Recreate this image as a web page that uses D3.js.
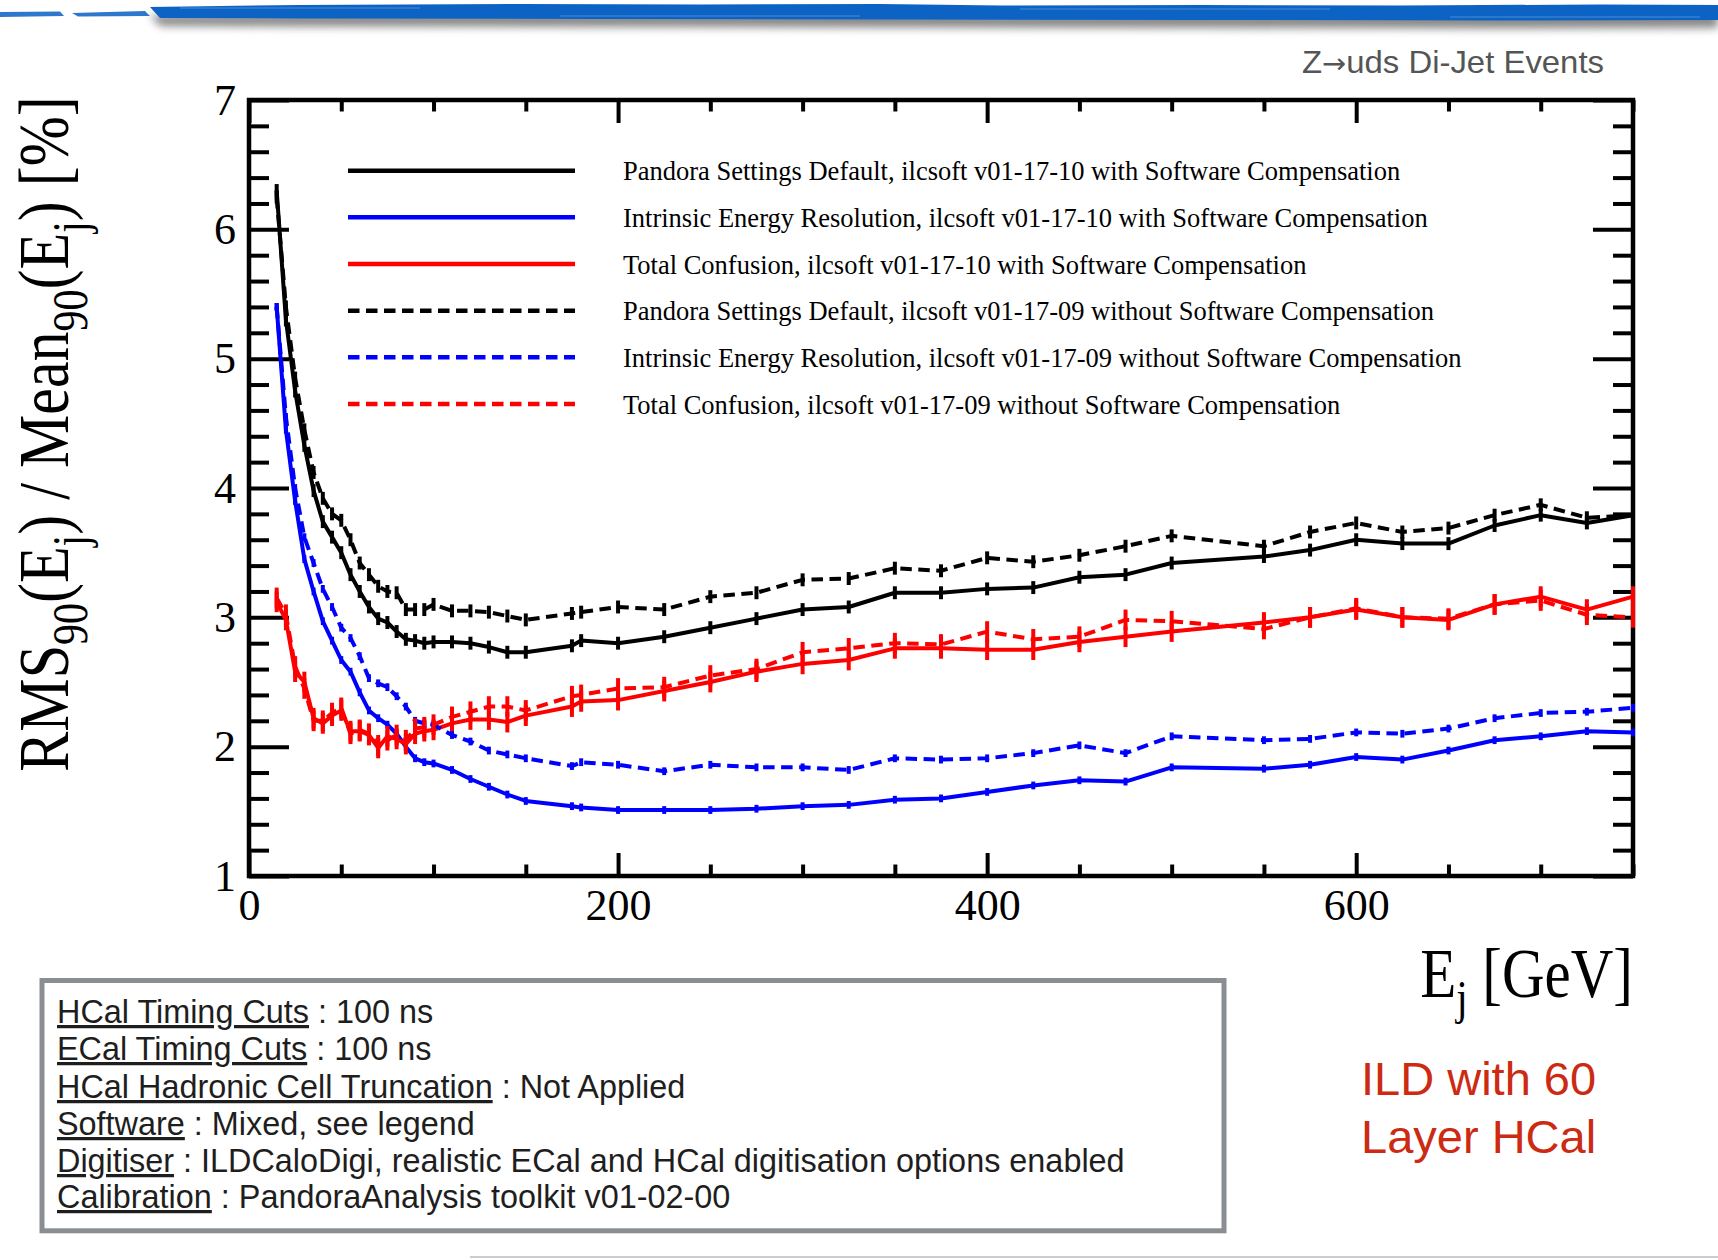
<!DOCTYPE html>
<html>
<head>
<meta charset="utf-8">
<script src="https://cdn.jsdelivr.net/npm/d3@7"></script>
<style>
  html, body { margin: 0; padding: 0; background: #ffffff; }
  svg { display: block; }
</style>
</head>
<body>
<svg id="chart" width="1718" height="1260"></svg>
<script>
// Jet energy points [GeV]
const energies = [15, 20, 25, 30, 35, 40, 45, 50, 55, 60, 65, 70, 75, 80, 85, 90, 95, 100,
  110, 120, 130, 140, 150, 175, 180,
  200, 225, 250, 275, 300, 325, 350, 375, 400, 425, 450, 475, 500,
  550, 575, 600, 625, 650, 675, 700, 725, 750];

// ilcsoft v01-17-10, with software compensation
const defaultSC = [6.30, 5.30, 4.75, 4.33, 3.98, 3.74, 3.62, 3.50, 3.33, 3.20, 3.08, 2.99, 2.96, 2.89, 2.83, 2.82, 2.80, 2.81,
  2.81, 2.80, 2.77, 2.73, 2.73, 2.78, 2.82,
  2.80, 2.85, 2.92, 2.99, 3.06, 3.08, 3.19, 3.19, 3.22, 3.23, 3.31, 3.33, 3.42,
  3.47, 3.52, 3.60, 3.57, 3.57, 3.71, 3.79, 3.73, 3.79];
const intrinsicSC = [5.40, 4.45, 3.90, 3.45, 3.20, 2.97, 2.82, 2.67, 2.58, 2.42, 2.28, 2.22, 2.17, 2.10, 2.00, 1.91, 1.88, 1.87,
  1.82, 1.75, 1.69, 1.63, 1.58, 1.54, 1.53,
  1.51, 1.51, 1.51, 1.52, 1.54, 1.55, 1.59, 1.60, 1.65, 1.70, 1.74, 1.73, 1.84,
  1.83, 1.86, 1.92, 1.90, 1.97, 2.05, 2.08, 2.12, 2.11];
const confusionSC = [3.12, 2.98, 2.58, 2.50, 2.22, 2.18, 2.24, 2.28, 2.12, 2.12, 2.09, 1.99, 2.08, 2.06, 2.02, 2.10, 2.12, 2.13,
  2.18, 2.21, 2.21, 2.19, 2.24, 2.31, 2.35,
  2.36, 2.43, 2.50, 2.58, 2.64, 2.67, 2.76, 2.76, 2.75, 2.75, 2.81, 2.85, 2.89,
  2.96, 3.00, 3.06, 3.00, 2.98, 3.10, 3.16, 3.06, 3.16];

// ilcsoft v01-17-09, without software compensation
const defaultNoSC = [6.25, 5.40, 4.85, 4.45, 4.12, 3.92, 3.80, 3.75, 3.60, 3.42, 3.33, 3.24, 3.20, 3.19, 3.06, 3.06, 3.06, 3.10,
  3.05, 3.05, 3.04, 3.01, 2.98, 3.03, 3.04,
  3.08, 3.06, 3.16, 3.19, 3.29, 3.30, 3.38, 3.36, 3.46, 3.43, 3.48, 3.55, 3.63,
  3.55, 3.66, 3.73, 3.66, 3.69, 3.79, 3.87, 3.77, 3.79];
const intrinsicNoSC = [5.40, 4.55, 4.00, 3.62, 3.42, 3.22, 3.08, 2.92, 2.84, 2.70, 2.53, 2.49, 2.46, 2.39, 2.31, 2.20, 2.18, 2.17,
  2.09, 2.04, 1.97, 1.94, 1.91, 1.85, 1.88,
  1.86, 1.81, 1.86, 1.84, 1.84, 1.82, 1.91, 1.90, 1.91, 1.95, 2.01, 1.95, 2.08,
  2.05, 2.06, 2.11, 2.10, 2.14, 2.22, 2.26, 2.27, 2.30];
const confusionNoSC = [3.15, 3.02, 2.62, 2.45, 2.20, 2.20, 2.26, 2.30, 2.10, 2.13, 2.10, 2.01, 2.05, 2.09, 2.05, 2.14, 2.15, 2.17,
  2.23, 2.27, 2.31, 2.31, 2.28, 2.39, 2.40,
  2.45, 2.46, 2.55, 2.60, 2.73, 2.76, 2.80, 2.79, 2.89, 2.83, 2.85, 2.98, 2.97,
  2.91, 3.00, 3.07, 3.00, 2.99, 3.10, 3.13, 3.02, 3.00];

// statistical uncertainty (half-width, %) per series
const errDefault = 0.05, errIntrinsic = 0.03, errConfusion = 0.08;

const seriesLabels = [
  "Pandora Settings Default, ilcsoft v01-17-10 with Software Compensation",
  "Intrinsic Energy Resolution, ilcsoft v01-17-10 with Software Compensation",
  "Total Confusion, ilcsoft v01-17-10 with Software Compensation",
  "Pandora Settings Default, ilcsoft v01-17-09 without Software Compensation",
  "Intrinsic Energy Resolution, ilcsoft v01-17-09 without Software Compensation",
  "Total Confusion, ilcsoft v01-17-09 without Software Compensation"
];

const xMajorTicks = [0, 200, 400, 600];
const yMajorTicks = [1, 2, 3, 4, 5, 6, 7];

const infoLines = [
  ["HCal Timing Cuts", " : 100 ns"],
  ["ECal Timing Cuts", " : 100 ns"],
  ["HCal Hadronic Cell Truncation", " : Not Applied"],
  ["Software", " : Mixed, see legend"],
  ["Digitiser", " : ILDCaloDigi, realistic ECal and HCal digitisation options enabled"],
  ["Calibration", " : PandoraAnalysis toolkit v01-02-00"]
];

const series = [
  { values: defaultSC,     err: errDefault,   color: "#000000", dashed: false },
  { values: intrinsicSC,   err: errIntrinsic, color: "#0000ff", dashed: false },
  { values: confusionSC,   err: errConfusion, color: "#ff0000", dashed: false },
  { values: defaultNoSC,   err: errDefault,   color: "#000000", dashed: true },
  { values: intrinsicNoSC, err: errIntrinsic, color: "#0000ff", dashed: true },
  { values: confusionNoSC, err: errConfusion, color: "#ff0000", dashed: true }
].map((s, i) => ({ ...s, label: seriesLabels[i] }));

const SERIF = "'Liberation Serif', 'Times New Roman', serif";
const SANS = "'Liberation Sans', Arial, Helvetica, sans-serif";
const DASH = "11.5,6.5";

const svg = d3.select("#chart");

// ---------- slide decoration: brushed banner at the top ----------
const defs = svg.append("defs");
defs.append("filter").attr("id", "soft").attr("x", "-5%").attr("y", "-200%").attr("width", "110%").attr("height", "500%")
  .append("feGaussianBlur").attr("stdDeviation", 4);

const bannerMain = "M150,7 L300,5 L520,4 L700,4.5 L880,4 L1000,5.5 L1200,5 L1400,5.5 L1600,4.5 L1718,5 L1718,20 L1500,20.5 L1200,20 L900,19.5 L600,19 L300,18.5 L160,18 Z";
const bannerBits = "M0,12 L60,11.5 L64,16 L0,17 Z M72,13 L145,11 L150,16 L78,16.5 Z";
svg.append("path").attr("d", bannerMain).attr("transform", "translate(0,8)")
  .attr("fill", "#555555").attr("opacity", 0.7).attr("filter", "url(#soft)");
svg.append("path").attr("d", bannerMain).attr("fill", "#0d63c3");
svg.append("path").attr("d", bannerBits).attr("fill", "#2d77cc");
// lighter brush streaks along the banner
[[180, 420, 8], [560, 860, 16], [1020, 1330, 9], [1450, 1700, 17]].forEach(([a, b, yy]) => {
  svg.append("line").attr("x1", a).attr("x2", b).attr("y1", yy).attr("y2", yy)
    .attr("stroke", "#3f86d6").attr("stroke-width", 1.5).attr("opacity", 0.8);
});

// faint edge of the next banner at the bottom
svg.append("line").attr("x1", 470).attr("x2", 1718).attr("y1", 1257).attr("y2", 1257)
  .attr("stroke", "#c9cdd3").attr("stroke-width", 2);

// ---------- plot frame and scales ----------
const plot = { left: 249, right: 1633, top: 100, bottom: 876 };
const x = d3.scaleLinear().domain([0, 750]).range([plot.left, plot.right]);
const y = d3.scaleLinear().domain([1, 7]).range([plot.bottom, plot.top]);

const xMinorTicks = d3.range(50, 751, 50).filter(v => !xMajorTicks.includes(v));
const yMinorTicks = d3.range(10, 71, 2).map(v => v / 10).filter(v => !yMajorTicks.includes(v));

function styleAxis(g, withLabels) {
  g.select(".domain").remove();
  g.selectAll(".tick line").attr("stroke", "#000").attr("stroke-width", 4);
  g.selectAll(".tick text")
    .attr("font-family", SERIF).attr("font-size", 44).attr("fill", "#000");
  if (!withLabels) g.selectAll(".tick text").remove();
  return g;
}

// left / right
svg.append("g").attr("transform", `translate(${plot.left},0)`)
  .call(d3.axisLeft(y).tickValues(yMajorTicks).tickSize(-40).tickPadding(13).tickFormat(d3.format("d")))
  .call(g => styleAxis(g, true));
svg.append("g").attr("transform", `translate(${plot.left},0)`)
  .call(d3.axisLeft(y).tickValues(yMinorTicks).tickSize(-20))
  .call(g => styleAxis(g, false));
svg.append("g").attr("transform", `translate(${plot.right},0)`)
  .call(d3.axisRight(y).tickValues(yMajorTicks).tickSize(-40))
  .call(g => styleAxis(g, false));
svg.append("g").attr("transform", `translate(${plot.right},0)`)
  .call(d3.axisRight(y).tickValues(yMinorTicks).tickSize(-20))
  .call(g => styleAxis(g, false));

// bottom / top
svg.append("g").attr("transform", `translate(0,${plot.bottom})`)
  .call(d3.axisBottom(x).tickValues(xMajorTicks).tickSize(-23).tickPadding(13).tickFormat(d3.format("d")))
  .call(g => styleAxis(g, true));
svg.append("g").attr("transform", `translate(0,${plot.bottom})`)
  .call(d3.axisBottom(x).tickValues(xMinorTicks).tickSize(-11.5))
  .call(g => styleAxis(g, false));
svg.append("g").attr("transform", `translate(0,${plot.top})`)
  .call(d3.axisTop(x).tickValues(xMajorTicks).tickSize(-23))
  .call(g => styleAxis(g, false));
svg.append("g").attr("transform", `translate(0,${plot.top})`)
  .call(d3.axisTop(x).tickValues(xMinorTicks).tickSize(-11.5))
  .call(g => styleAxis(g, false));

svg.append("rect")
  .attr("x", plot.left).attr("y", plot.top)
  .attr("width", plot.right - plot.left).attr("height", plot.bottom - plot.top)
  .attr("fill", "none").attr("stroke", "#000").attr("stroke-width", 4.5);

// ---------- data ----------
const line = d3.line().x(d => x(d.e)).y(d => y(d.v));
const gData = svg.append("g");
series.forEach(s => {
  const pts = energies.map((e, i) => ({ e, v: s.values[i] }));
  gData.append("path").datum(pts)
    .attr("d", line)
    .attr("fill", "none")
    .attr("stroke", s.color)
    .attr("stroke-width", 4)
    .attr("stroke-linejoin", "round")
    .attr("stroke-dasharray", s.dashed ? DASH : null);
  gData.append("g").selectAll("line").data(pts).join("line")
    .attr("x1", d => x(d.e)).attr("x2", d => x(d.e))
    .attr("y1", d => y(d.v - s.err)).attr("y2", d => y(d.v + s.err))
    .attr("stroke", s.color).attr("stroke-width", 4);
});

// ---------- legend ----------
const legendRows = [170.7, 217.3, 264, 310.7, 357.3, 404];
const gLeg = svg.append("g");
series.forEach((s, i) => {
  const ly = legendRows[i];
  gLeg.append("line").attr("x1", 348).attr("x2", 575).attr("y1", ly).attr("y2", ly)
    .attr("stroke", s.color).attr("stroke-width", 4.5)
    .attr("stroke-dasharray", s.dashed ? DASH : null);
  gLeg.append("text").attr("x", 623).attr("y", ly + 9.5)
    .attr("font-family", SERIF).attr("font-size", 26.5).attr("fill", "#000")
    .text(s.label);
});

// ---------- axis titles ----------
const xt = svg.append("text")
  .attr("transform", "translate(1633,997) scale(1,1.2)")
  .attr("text-anchor", "end")
  .attr("font-family", SERIF).attr("font-size", 59).attr("fill", "#000");
xt.append("tspan").text("E");
xt.append("tspan").attr("font-size", 41).attr("dy", 14).text("j");
xt.append("tspan").attr("dy", -14).text(" [GeV]");

const yt = svg.append("text")
  .attr("transform", "translate(68,434) rotate(-90) scale(1,1.2)")
  .attr("text-anchor", "middle")
  .attr("font-family", SERIF).attr("font-size", 60).attr("fill", "#000");
[["RMS", 0], ["90", 1], ["(E", 0], ["j", 1], [") / Mean", 0], ["90", 1], ["(E", 0], ["j", 1], [") [%]", 0]]
  .reduce((prevSub, [t, sub]) => {
    const sp = yt.append("tspan").text(t);
    if (sub) sp.attr("font-size", 42);
    if (sub !== prevSub) sp.attr("dy", sub ? 16 : -16);
    return sub;
  }, 0);

// ---------- annotations ----------
const ev = svg.append("text").attr("x", 1302).attr("y", 73)
  .attr("textLength", 302).attr("lengthAdjust", "spacingAndGlyphs")
  .attr("font-family", SANS).attr("font-size", 32).attr("fill", "#555555");
ev.append("tspan").text("Z");
ev.append("tspan").attr("font-family", "'DejaVu Sans', sans-serif").attr("font-size", 28).text("\u2192");
ev.append("tspan").text("uds Di-Jet Events");

svg.append("rect").attr("x", 42).attr("y", 980.5).attr("width", 1182).attr("height", 250.3)
  .attr("fill", "#ffffff").attr("stroke", "#8a8d92").attr("stroke-width", 5);

const infoBase = [1023, 1060, 1098, 1135, 1172, 1208];
infoLines.forEach(([key, rest], i) => {
  const t = svg.append("text").attr("x", 57).attr("y", infoBase[i])
    .attr("font-family", SANS).attr("font-size", 32.4).attr("fill", "#1e1e1e");
  t.append("tspan").style("text-decoration", "underline").text(key);
  t.append("tspan").text(rest);
});

const ild = svg.append("text").attr("x", 1361).attr("font-family", SANS)
  .attr("font-size", 47).attr("fill", "#cc2a12");
ild.append("tspan").attr("x", 1361).attr("y", 1095).text("ILD with 60");
ild.append("tspan").attr("x", 1361).attr("y", 1153).text("Layer HCal");
</script>
</body>
</html>
